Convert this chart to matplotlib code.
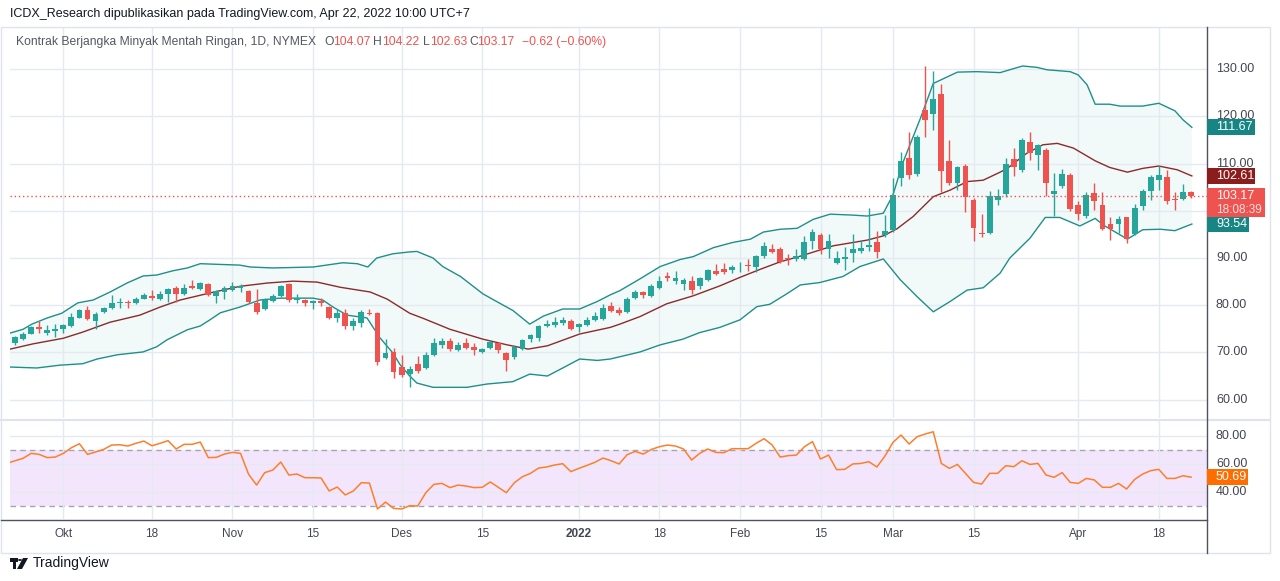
import numpy as np
import matplotlib.pyplot as plt
from matplotlib import transforms
from matplotlib.lines import Line2D
from matplotlib.patches import Rectangle, Polygon, Circle

plt.rcParams['font.family'] = ['Liberation Sans', 'DejaVu Sans']

W, H = 1280, 581

# daily candles, bar 1 .. bar 147 (Sep 23 2021 .. Apr 22 2022)
opens = [71.9, 72.9, 74.0, 75.3, 74.1, 74.6, 74.9, 75.6, 77.3, 78.9,
         76.7, 78.6, 79.5, 80.4, 80.5, 80.4, 81.4, 81.9, 81.3, 82.3,
         83.7, 82.3, 84.0, 83.4, 84.4, 81.9, 82.7, 83.2, 83.7, 83.0,
         80.4, 79.2, 80.9, 81.9, 84.6, 81.1, 81.1, 80.5, 80.9, 79.6,
         77.3, 78.4, 75.6, 76.3, 78.4, 78.4, 68.9, 70.1, 66.9, 65.4,
         67.5, 66.7, 69.5, 71.5, 72.4, 70.5, 72.0, 71.2, 70.1, 71.0,
         71.9, 69.8, 69.0, 70.8, 72.8, 73.1, 75.7, 75.8, 76.2, 76.6,
         75.4, 75.8, 76.8, 77.1, 79.8, 79.0, 78.5, 81.5, 82.9, 81.9,
         83.7, 86.2, 85.2, 84.5, 85.1, 84.1, 85.4, 87.2, 87.7, 87.5,
         88.0, 88.5, 88.0, 90.4, 92.0, 91.9, 90.0, 89.8, 89.8, 93.6,
         94.9, 92.0, 89.0, 89.9, 91.1, 91.5, 92.4, 93.4, 94.8, 95.9,
         107.0, 111.3, 107.8, 121.4, 120.5, 124.8, 110.6, 106.0, 109.5, 102.3,
         95.4, 95.3, 102.4, 103.6, 111.0, 108.7, 114.6, 111.8, 113.0, 103.5,
         105.2, 107.7, 101.3, 98.9, 103.8, 101.3, 97.3, 97.3, 98.6, 95.0,
         101.0, 104.2, 106.5, 107.2, 102.5, 102.5, 104.07]
highs = [73.5, 74.4, 75.6, 76.7, 75.8, 76.0, 76.1, 78.4, 79.3, 79.8,
         78.5, 79.7, 82.1, 81.6, 81.1, 81.8, 82.6, 83.2, 83.0, 83.7,
         84.0, 84.4, 85.3, 84.9, 84.8, 83.3, 84.0, 84.9, 84.6, 83.3,
         83.4, 81.5, 82.3, 84.2, 84.8, 82.3, 81.4, 81.1, 81.6, 79.8,
         79.1, 79.1, 77.2, 78.9, 79.1, 78.6, 72.8, 71.0, 69.4, 67.1,
         69.2, 70.0, 73.1, 73.1, 73.1, 72.2, 73.0, 71.9, 71.0, 72.7,
         72.2, 70.0, 71.5, 72.9, 74.0, 75.9, 76.8, 77.4, 77.4, 77.0,
         76.3, 77.4, 78.6, 80.3, 80.6, 79.6, 81.7, 83.2, 83.1, 84.5,
         86.1, 87.0, 87.3, 85.7, 86.1, 85.9, 87.7, 88.7, 88.9, 88.6,
         89.1, 89.8, 90.6, 93.5, 93.0, 92.3, 90.8, 91.9, 94.7, 96.1,
         95.3, 95.1, 91.5, 92.3, 95.0, 93.8, 100.7, 95.7, 99.1, 106.9,
         112.5, 116.8, 116.0, 130.7, 129.6, 126.9, 115.0, 109.5, 110.0, 102.8,
         99.3, 104.2, 104.6, 111.2, 113.3, 115.5, 116.8, 114.2, 113.4, 108.0,
         108.9, 108.0, 102.0, 104.0, 105.8, 104.0, 98.8, 99.0, 98.8, 101.5,
         104.6, 107.7, 109.4, 108.6, 104.1, 105.6, 104.22]
lows = [71.5, 72.7, 73.9, 74.1, 73.6, 73.2, 74.1, 75.4, 77.2, 76.8,
        74.9, 78.4, 79.3, 79.5, 79.5, 80.2, 81.3, 81.1, 81.1, 80.7,
        80.6, 82.1, 83.4, 83.2, 81.9, 80.5, 81.3, 83.0, 82.8, 80.4,
        78.2, 78.9, 80.6, 81.7, 80.7, 80.4, 79.8, 79.3, 79.8, 77.0,
        76.5, 74.9, 74.8, 75.3, 78.0, 67.3, 68.6, 64.5, 64.8, 62.6,
        65.7, 66.5, 69.3, 71.0, 70.3, 70.3, 70.7, 69.5, 69.8, 70.8,
        69.8, 66.1, 68.6, 70.6, 72.2, 72.4, 75.4, 75.4, 75.9, 74.8,
        74.4, 75.6, 76.6, 76.8, 78.6, 77.9, 78.4, 81.3, 81.6, 81.7,
        83.5, 85.2, 84.6, 83.3, 82.4, 83.4, 85.2, 86.3, 86.6, 86.8,
        87.0, 87.3, 87.1, 90.1, 91.0, 88.9, 88.6, 89.3, 89.5, 92.0,
        90.8, 90.0, 88.8, 87.5, 89.2, 91.0, 91.5, 90.0, 94.5, 95.5,
        105.2, 106.7, 107.4, 115.7, 117.1, 103.9, 105.5, 104.5, 99.8, 93.7,
        94.5, 95.0, 101.2, 102.9, 107.3, 108.3, 110.8, 108.7, 103.1, 98.9,
        104.8, 100.0, 98.1, 98.4, 100.2, 96.0, 93.9, 95.4, 93.2, 94.8,
        100.2, 102.2, 104.4, 101.5, 100.1, 102.2, 102.63]
closes = [73.2, 73.9, 75.3, 75.0, 74.7, 74.9, 75.8, 77.4, 78.9, 77.0,
          78.2, 79.4, 80.5, 80.7, 80.4, 81.3, 82.1, 81.6, 82.3, 83.4,
          82.3, 83.7, 83.7, 84.7, 82.1, 83.0, 83.7, 84.1, 84.0, 80.7,
          78.6, 81.2, 81.9, 84.0, 81.1, 81.6, 80.5, 80.8, 80.5, 77.2,
          78.4, 75.6, 76.7, 78.6, 78.2, 68.0, 69.9, 65.9, 65.2, 66.4,
          66.0, 69.4, 71.9, 72.4, 70.7, 71.5, 71.0, 70.5, 70.7, 72.2,
          70.5, 68.3, 71.2, 72.6, 73.6, 75.6, 76.0, 76.4, 76.8, 75.0,
          76.0, 76.8, 77.7, 79.5, 78.8, 78.3, 81.3, 82.7, 82.2, 84.0,
          85.1, 85.8, 85.8, 85.3, 83.3, 85.8, 87.5, 86.6, 87.0, 88.2,
          88.2, 88.3, 90.4, 92.6, 91.3, 89.2, 89.7, 90.4, 93.3, 95.6,
          91.9, 93.6, 90.0, 90.2, 91.9, 92.1, 92.8, 91.3, 95.7, 103.4,
          110.6, 107.6, 115.7, 119.3, 123.6, 108.5, 106.0, 109.2, 103.0, 96.3,
          95.0, 103.1, 103.2, 109.9, 109.3, 115.1, 112.3, 113.9, 105.8, 104.2,
          107.9, 100.3, 99.3, 103.4, 102.0, 96.1, 96.1, 98.3, 94.1, 100.6,
          104.3, 107.1, 107.7, 102.0, 102.2, 103.9, 103.17]

# Bollinger bands (20, 2): bar position / price
upper_x = [0.4, 2, 3.1, 5, 6.8, 8.8, 10.7, 12.8, 14.9, 16.9, 18.6, 20.6, 22.4, 24,
           28.9, 30.2, 33, 38, 41.7, 43.5, 44.8, 45.9, 47.9, 50, 50.9, 52.9, 54.1,
           56.3, 59.1, 61.2, 62.8, 64.9, 66.6, 69, 71.1, 73.3, 74.9, 76.1, 78.6,
           81.1, 83.6, 85.2, 87.7, 90.1, 92.3, 93.9, 96, 98.1, 100.1, 102.2, 105,
           106.8, 108.8, 110, 111.2, 113.4, 115, 118, 120.4, 123.3, 124.5, 126.1,
           127.9, 129.1, 132, 133, 134.1, 135.1, 136.9, 138.2, 141, 143, 145, 146,
           147.1]
upper_y = [74.1, 74.9, 76.0, 77.3, 78.3, 80.5, 81.1, 82.8, 84.7, 86.2, 86.4, 87.3,
           87.9, 88.8, 88.5, 88.1, 87.9, 88.1, 89.0, 88.8, 88.1, 90.0, 90.9, 91.3,
           91.4, 90.0, 88.2, 86.1, 82.4, 80.4, 78.9, 76.0, 77.7, 79.2, 79.2, 80.8,
           82.2, 83.1, 85.6, 88.2, 89.7, 90.3, 92.2, 93.3, 94.0, 95.5, 96.1, 96.3,
           98.2, 99.3, 99.1, 98.9, 99.5, 103.4, 110.1, 119.6, 127.0, 129.4, 129.5,
           129.3, 129.9, 130.7, 130.4, 129.9, 129.5, 128.8, 126.7, 122.6, 122.6,
           122.2, 122.2, 122.8, 121.2, 119.3, 117.7]
mid_x = [0.4, 3.2, 7, 9.4, 12.8, 16.5, 19, 21.5, 25.2, 28.9, 32.3, 35.5, 38.5, 41.4,
         45.1, 47.2, 50, 51.7, 55, 59.1, 62.1, 64.7, 67.1, 71.1, 74.9, 76.1, 78.6,
         81.9, 85.2, 88.5, 91, 93.5, 96, 98.5, 102.6, 106.8, 108.8, 110.5, 112.5,
         115, 117.1, 119.2, 121.2, 123.3, 124.2, 126.6, 128.6, 130.4, 132.4, 135.1,
         136.9, 139.1, 141, 143, 145.3, 147.1]
mid_y = [70.7, 71.8, 73.0, 74.3, 76.4, 77.9, 79.6, 81.1, 82.6, 84.0, 84.7, 85.1,
         84.9, 83.8, 82.8, 81.3, 78.3, 77.2, 74.9, 72.8, 71.6, 70.7, 71.4, 73.9,
         75.3, 76.0, 77.6, 80.3, 82.0, 84.1, 85.9, 87.6, 89.2, 90.4, 92.6, 93.8,
         94.7, 96.2, 98.8, 103.0, 104.4, 106.2, 106.5, 108.2, 109.0, 112.2, 114.0,
         114.3, 113.3, 110.6, 109.2, 108.2, 109.0, 109.5, 108.7, 107.4]
lower_x = [0.4, 3.7, 6.6, 9.4, 11.2, 13.7, 16.9, 18.6, 19.9, 22.4, 24, 25.2, 26.5,
           28.9, 31.4, 33.9, 38, 39.2, 40.5, 42.2, 44.7, 46.3, 47.9, 48.8, 50, 50.9,
           52.9, 57.1, 59.6, 62.8, 64.9, 67.1, 69, 71.1, 73.3, 74.9, 78.6, 81.1,
           83.9, 86, 88.5, 91, 93.1, 94.7, 96.8, 98.5, 100.9, 103.8, 105.9, 108.8,
           110.9, 113, 115, 117.1, 119.2, 121.2, 123.3, 124.5, 127, 128.9, 130.7,
           133.2, 135.1, 136.1, 139.1, 141, 143.2, 145, 147.1]
lower_y = [66.9, 66.7, 67.3, 67.6, 68.6, 69.5, 70.1, 71.2, 72.7, 74.8, 75.6, 76.9,
           78.4, 79.6, 81.1, 81.5, 81.5, 81.1, 79.6, 77.9, 77.3, 73.1, 69.9, 67.4,
           65.0, 63.5, 62.6, 62.6, 63.3, 63.8, 65.4, 65.0, 66.7, 68.6, 68.3, 68.6,
           70.1, 71.6, 72.8, 74.2, 75.3, 76.9, 79.7, 80.2, 82.4, 84.3, 84.8, 86.1,
           88.2, 89.8, 85.4, 81.8, 78.6, 80.8, 83.2, 83.7, 86.8, 90.0, 94.2, 98.6,
           98.6, 96.8, 98.4, 97.0, 94.0, 96.0, 96.1, 95.8, 97.2]

# RSI(14), bar 0 .. bar 147
rsi = [60.4, 62.3, 64.0, 67.5, 66.8, 64.5, 64.9, 67.5, 71.5, 74.3,
       66.8, 68.5, 70.3, 73.4, 73.6, 72.7, 74.6, 76.2, 72.9, 74.6,
       76.5, 70.6, 73.9, 73.9, 75.5, 64.5, 64.7, 67.0, 68.2, 67.5,
       52.7, 45.1, 53.9, 55.7, 61.4, 52.2, 52.9, 50.3, 50.3, 50.1,
       40.9, 43.7, 38.1, 40.9, 46.8, 46.5, 28.2, 33.1, 28.6, 28.2,
       30.5, 30.3, 39.7, 45.6, 46.3, 43.3, 45.1, 44.4, 43.3, 43.5,
       47.3, 43.5, 39.7, 46.8, 51.0, 53.4, 57.1, 57.9, 59.3, 60.2,
       54.6, 56.9, 59.0, 61.2, 64.2, 62.3, 60.0, 66.6, 68.9, 67.0,
       70.3, 72.2, 73.4, 72.7, 70.6, 62.8, 67.5, 70.6, 68.2, 68.0,
       70.8, 70.8, 70.8, 74.6, 77.9, 73.4, 64.9, 65.9, 66.3, 72.2,
       75.8, 63.5, 66.3, 56.0, 56.2, 60.0, 60.4, 61.6, 57.9, 65.6,
       75.3, 80.5, 74.1, 79.3, 81.2, 82.8, 60.4, 56.9, 59.7, 53.4,
       47.0, 45.8, 53.4, 53.4, 58.8, 58.1, 62.3, 59.7, 60.4, 52.2,
       50.6, 53.9, 47.0, 46.3, 49.8, 48.7, 43.5, 43.5, 46.3, 42.3,
       49.1, 52.9, 55.3, 56.2, 49.8, 49.8, 51.7, 50.7]

tick_bars = [7, 18, 28, 38, 49, 59, 71, 81, 91, 101, 110, 120, 133, 143]
tick_labels = ['Okt', '18', 'Nov', '15', 'Des', '15', '2022', '18',
               'Feb', '15', 'Mar', '15', 'Apr', '18']
price_ticks = [60, 70, 80, 90, 100, 110, 120, 130]
price_hidden = [100]          # covered by the last-price tag in the reference
rsi_ticks = [40, 60, 80]

UP, DOWN = '#26a69a', '#ef5350'
BAND, MID = '#1f8f8a', '#8b2b2b'
GRID = '#e4eaef'
TXT = '#434651'


def fx(px):
    return px / W


def fy(py):
    return 1 - py / H


fig = plt.figure(figsize=(12.8, 5.81), dpi=100)
fig.patch.set_facecolor('white')

ax = fig.add_axes([fx(10), fy(418), fx(1206.5) - fx(10), fy(28) - fy(418)])
rax = fig.add_axes([fx(10), fy(519), fx(1206.5) - fx(10), fy(421) - fy(519)])

for a in (ax, rax):
    a.set_xlim(0.379, 148.92)
    for s in a.spines.values():
        s.set_visible(False)
    a.set_xticks(tick_bars)
    a.grid(True, color=GRID, lw=1, zorder=0)
    a.tick_params(length=0, labelleft=False, labelright=False)

ax.set_ylim(56.1, 138.75)
ax.set_yticks(price_ticks)
ax.tick_params(labelbottom=False)

# bands
ax.fill(np.r_[upper_x, lower_x[::-1]], np.r_[upper_y, lower_y[::-1]],
        color=UP, alpha=0.06, lw=0, zorder=1)
ax.plot(upper_x, upper_y, color=BAND, lw=1, zorder=2)
ax.plot(lower_x, lower_y, color=BAND, lw=1, zorder=2)
ax.plot(mid_x, mid_y, color=MID, lw=1, zorder=2)

# candles
o = np.array(opens)
h = np.array(highs)
l = np.array(lows)
c = np.array(closes)
bars = np.arange(1, len(o) + 1)
cols = np.where(c >= o, UP, DOWN)
ax.vlines(bars, l, h, colors=cols, lw=1, zorder=3)
body = np.maximum(np.abs(c - o), 0.18)
ax.bar(bars, body, bottom=np.minimum(o, c), width=0.72, color=cols, lw=0, zorder=4)

ax.axhline(closes[-1], color=DOWN, lw=1, ls=(0, (1, 2)), zorder=5)

# RSI pane
rax.set_ylim(21.1, 90.4)
rax.set_yticks(rsi_ticks)
rax.axhspan(30, 70, color='#f3e6fc', lw=0, zorder=0.5)
for lev in (30, 70):
    rax.axhline(lev, color='#a3a6af', lw=1, ls=(0, (4, 3)), zorder=1)
rax.plot(np.arange(len(rsi)), rsi, color='#fd7f2c', lw=1.1, zorder=3)
rax.set_xticklabels(tick_labels)
rax.tick_params(axis='x', pad=6.5, labelsize=8.5, labelcolor=TXT)
for t in rax.get_xticklabels():
    if t.get_text() == '2022':
        t.set_fontweight('bold')

# right axis labels
tr = transforms.blended_transform_factory(ax.transAxes, ax.transData)
for p in price_ticks:
    if p in price_hidden:
        continue
    ax.text(1 + (1216 - 1206.5) / 1196.5, p, f'{p:.2f}', transform=tr,
            ha='left', va='center', fontsize=9, color=TXT, clip_on=False)
rtr = transforms.blended_transform_factory(rax.transAxes, rax.transData)
for p in rsi_ticks:
    rax.text(1 + (1216 - 1206.5) / 1196.5, p, f'{p:.2f}', transform=rtr,
             ha='left', va='center', fontsize=9, color=TXT, clip_on=False)


def value_box(a, value, texts, tcolors, fc, width, above=8, below=8, sizes=None):
    ypx = H - a.transData.transform((0, value))[1]
    top, bot = ypx - above, ypx + below
    fig.add_artist(Rectangle((fx(1207), fy(bot)), fx(1207 + width) - fx(1207),
                             fy(top) - fy(bot), transform=fig.transFigure,
                             fc=fc, ec='none', zorder=10))
    sizes = sizes or [9] * len(texts)
    for i, (t, tc, fs) in enumerate(zip(texts, tcolors, sizes)):
        fig.text(fx(1216), fy(ypx + 14 * i), t, ha='left', va='center',
                 fontsize=fs, color=tc, zorder=11)


value_box(ax, upper_y[-1], ['111.67'], ['white'], '#168583', 48)
value_box(ax, mid_y[-1], ['102.61'], ['white'], '#8c1d1d', 48)
value_box(ax, closes[-1], ['103.17', '18:08:39'], ['white', '#fde0df'], DOWN, 58,
          above=8, below=21, sizes=[9, 8.5])
value_box(ax, lower_y[-1], ['93.54'], ['white'], '#168583', 42, above=7, below=8)
value_box(rax, rsi[-1], ['50.69'], ['white'], '#ff6d00', 41)

# frame lines
fig.add_artist(Rectangle((fx(1), fy(553)), fx(1270) - fx(1), fy(27) - fy(553),
                         transform=fig.transFigure, fill=False, ec='#e0e3eb', lw=1))
fig.add_artist(Line2D([fx(1), fx(1270)], [fy(419.5)] * 2, color='#e0e3eb', lw=1.5))
fig.add_artist(Line2D([fx(1207)] * 2, [fy(27), fy(553)], color='#50535e', lw=1))
fig.add_artist(Line2D([fx(1), fx(1207)], [fy(519.5)] * 2, color='#50535e', lw=1))

# header and legend
fig.text(fx(10), fy(14), 'ICDX_Research dipublikasikan pada TradingView.com, '
         'Apr 22, 2022 10:00 UTC+7', fontsize=9, color='#131722', va='center')
ly = fy(42)
fig.text(fx(16), ly, 'Kontrak Berjangka Minyak Mentah Ringan, 1D, NYMEX',
         fontsize=8.7, color='#555863', va='center')
legend_parts = [(324, 'O', '#555863'), (333, '104.07', DOWN),
                (373, 'H', '#555863'), (382, '104.22', DOWN),
                (423, 'L', '#555863'), (430, '102.63', DOWN),
                (469, 'C', '#555863'), (477, '103.17', DOWN),
                (522, '\u22120.62 (\u22120.60%)', DOWN)]
for px, t, col in legend_parts:
    fig.text(fx(px), ly, t, fontsize=8.7, color=col, va='center')

# TradingView mark
k = '#131722'
fig.add_artist(Rectangle((fx(10), fy(562)), fx(8) - fx(0), fy(558) - fy(562),
                         transform=fig.transFigure, fc=k, ec='none'))
fig.add_artist(Rectangle((fx(13), fy(569)), fx(3) - fx(0), fy(562) - fy(569),
                         transform=fig.transFigure, fc=k, ec='none'))
fig.add_artist(Circle((fx(20), fy(560)), 0.0016, transform=fig.transFigure,
                      fc=k, ec='none'))
fig.add_artist(Polygon([(fx(23), fy(558)), (fx(28), fy(558)), (fx(22), fy(569)),
                        (fx(17), fy(569))], transform=fig.transFigure,
                       fc=k, ec='none'))
fig.text(fx(33), fy(563), 'TradingView', fontsize=10, color=k, va='center')

fig.savefig('out.png', dpi=100, facecolor='white')
